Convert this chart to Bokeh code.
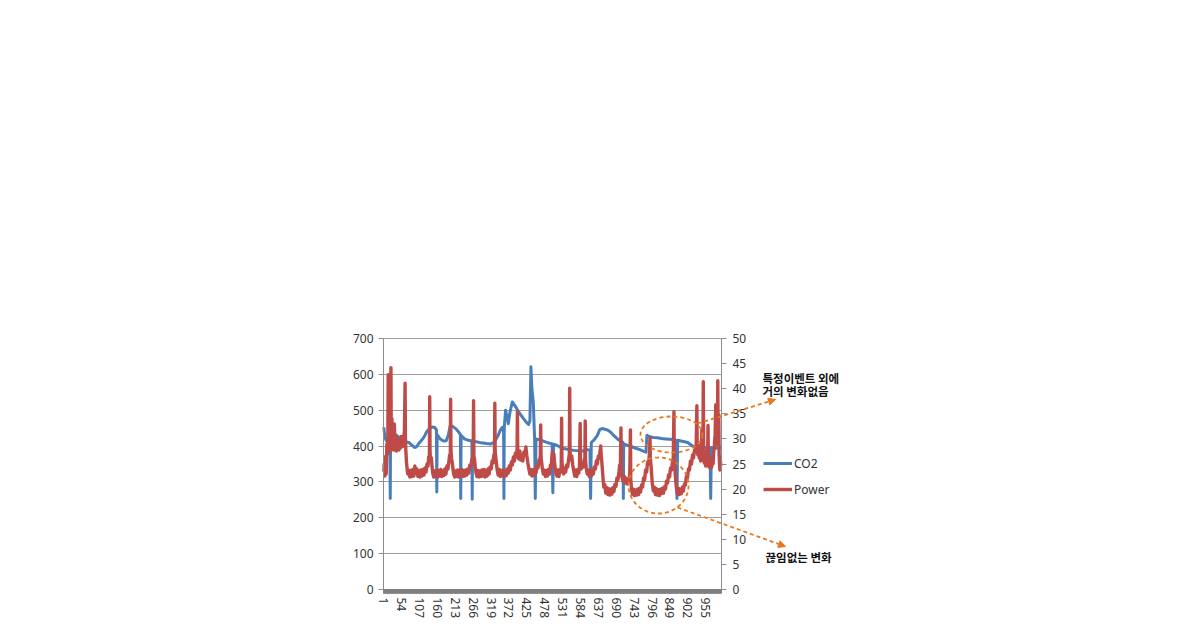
from bokeh.plotting import figure
from bokeh.models import (Range1d, LinearAxis, FixedTicker, Legend, LegendItem,
                          Label, Arrow, NormalHead)
from bokeh.embed import file_html
from bokeh.resources import INLINE

# ---------------- data ----------------
N_POINTS = 1000
X_TICKS = list(range(1, N_POINTS + 1, 53))          # 1, 54, 107, ... 955
LEFT_TICKS = [0, 100, 200, 300, 400, 500, 600, 700]
RIGHT_TICKS = [0, 5, 10, 15, 20, 25, 30, 35, 40, 45, 50]

CO2_POINTS = [
    (1, 452), (4, 425), (8, 416), (12, 420), (16, 428), (19, 420), (20, 254), (21, 425),
    (28, 440), (36, 432), (45, 425), (55, 418), (65, 412), (75, 410), (85, 402), (92, 396),
    (98, 398), (105, 408), (112, 415), (120, 425), (128, 440), (136, 448), (144, 453),
    (152, 452), (157, 445), (158, 272), (159, 432), (168, 420), (178, 414), (186, 415),
    (192, 430), (198, 458), (205, 455), (215, 448), (222, 440), (228, 432), (229, 254),
    (230, 430), (240, 420), (252, 416), (262, 414), (263, 252), (264, 414), (275, 412),
    (290, 409), (305, 407), (318, 406), (327, 410), (333, 418), (340, 430), (346, 444),
    (352, 452), (356, 440), (357, 254), (358, 452), (362, 500), (366, 482), (370, 462),
    (375, 495), (382, 523), (390, 512), (398, 500), (406, 488), (414, 478), (422, 468),
    (430, 460), (434, 470), (437, 621), (440, 560), (444, 523), (448, 420), (450, 254),
    (452, 420), (460, 418), (470, 415), (482, 411), (492, 408), (500, 406), (502, 270),
    (504, 405), (512, 403), (522, 398), (535, 393), (550, 390), (565, 388), (580, 387),
    (595, 386), (605, 390), (612, 388), (614, 254), (616, 410), (625, 418), (634, 430),
    (641, 446), (648, 449), (656, 447), (664, 445), (672, 440), (680, 432), (688, 425),
    (696, 418), (704, 414), (710, 410), (711, 254), (712, 406), (724, 402), (736, 398),
    (748, 394), (760, 390), (770, 386), (778, 383), (781, 430), (790, 426), (800, 424),
    (812, 423), (824, 421), (836, 420), (848, 419), (860, 418), (868, 416), (870, 254),
    (872, 416), (882, 414), (892, 412), (902, 410), (910, 404), (920, 398), (935, 396),
    (950, 395), (962, 395), (968, 395), (970, 254), (972, 395), (985, 394), (1000, 395),
]

POWER_POINTS = [
    (1, 23.5), (2, 25.0), (4, 22.6), (6, 26.5), (8, 23.0), (10, 29.0), (12, 27.0), (13, 31.0),
    (14, 42.8), (15, 29.0), (17, 33.0), (18, 27.5), (20, 31.5), (21, 28.0), (22, 44.2),
    (23, 30.0), (25, 34.0), (26, 28.0), (28, 32.0), (30, 27.8), (32, 33.0), (34, 28.5),
    (36, 30.5), (38, 27.6), (40, 30.2), (42, 28.0), (44, 30.0), (46, 27.8), (48, 29.8),
    (50, 28.2), (52, 30.5), (54, 28.4), (56, 29.6), (58, 28.5), (60, 30.5), (62, 31.5),
    (64, 41.1), (65, 30.0), (66, 28.0), (68, 25.5), (70, 24.0), (72, 23.0),
    (75, 23.8), (78, 22.4), (81, 23.7), (84, 22.5), (87, 23.9), (90, 22.6), (93, 24.6),
    (96, 23.2), (99, 24.0), (102, 22.5), (105, 23.6), (108, 22.4), (111, 23.8), (114, 22.6),
    (117, 23.9), (120, 22.8), (123, 24.2), (126, 23.4), (129, 25.0), (132, 24.6), (134, 26.4),
    (136, 25.8), (137, 38.4), (138, 27.2), (140, 25.6), (142, 26.2), (144, 24.4), (146, 23.2),
    (149, 22.4), (152, 23.6), (155, 22.5), (158, 23.8), (161, 22.4), (164, 23.7), (167, 22.6),
    (170, 23.9), (173, 22.5), (176, 23.6), (179, 22.7), (182, 24.0), (185, 23.0), (188, 24.6),
    (191, 24.0), (194, 25.6), (196, 26.8), (198, 25.8), (199, 37.9), (200, 27.6), (202, 26.0),
    (204, 25.2), (206, 24.0), (208, 23.0), (211, 22.4), (214, 23.6), (217, 22.5), (220, 23.8),
    (223, 22.4), (226, 23.6), (229, 22.6), (232, 23.9), (235, 22.5), (238, 23.7), (241, 22.6),
    (244, 23.8), (247, 22.8), (250, 24.0), (253, 23.2), (256, 24.8), (259, 24.4), (262, 26.0),
    (264, 25.4), (266, 27.2), (267, 37.6), (268, 26.6), (270, 25.8), (272, 24.4), (274, 23.4),
    (277, 22.5), (280, 23.7), (283, 22.4), (286, 23.6), (289, 22.5), (292, 23.8), (295, 22.6),
    (298, 23.9), (301, 22.4), (304, 23.7), (307, 22.6), (310, 24.0), (313, 23.0), (316, 24.4),
    (319, 24.0), (322, 25.6), (325, 25.2), (327, 26.8), (329, 26.0), (330, 37.1), (331, 27.6),
    (333, 26.2), (335, 25.0), (337, 23.8), (340, 22.8), (343, 23.9), (346, 22.5), (349, 23.7),
    (352, 22.6), (355, 23.8), (358, 22.5), (361, 23.6), (364, 22.7), (367, 24.0), (370, 23.2),
    (373, 24.6), (376, 23.8), (379, 25.4), (382, 24.8), (385, 26.4), (388, 25.6), (391, 27.2),
    (394, 26.4), (396, 28.0), (397, 35.4), (398, 27.2), (401, 26.0), (404, 27.6), (407, 25.8),
    (410, 26.8), (413, 25.6), (416, 27.4), (419, 26.8), (422, 28.4), (425, 26.6), (428, 25.2),
    (431, 24.0), (434, 23.0), (437, 23.9), (440, 22.6), (443, 23.8), (446, 22.7), (449, 24.0),
    (452, 23.2), (455, 24.6), (458, 24.2), (461, 25.8), (463, 25.4), (465, 26.8), (466, 32.8),
    (467, 26.4), (469, 25.2), (471, 24.0), (474, 23.0), (477, 23.8), (480, 22.5), (483, 23.7),
    (486, 22.6), (489, 23.9), (492, 23.0), (495, 24.8), (497, 24.2), (499, 26.2), (501, 27.4),
    (503, 26.0), (505, 27.0), (507, 25.4), (509, 24.2), (511, 23.2), (514, 22.6), (517, 23.8),
    (520, 22.5), (523, 23.9), (526, 23.4), (527, 25.0), (528, 34.1), (529, 25.4), (531, 24.2),
    (534, 23.0), (537, 24.2), (540, 23.4), (543, 24.8), (546, 24.4), (549, 26.0), (551, 27.0),
    (552, 40.1), (553, 27.2), (555, 25.8), (558, 26.6), (561, 24.8), (564, 23.6), (567, 22.6),
    (570, 23.8), (573, 22.5), (576, 23.9), (579, 23.2), (581, 24.6), (583, 33.1), (584, 25.0),
    (586, 24.0), (589, 25.2), (592, 24.4), (595, 25.8), (597, 26.2), (598, 33.6), (599, 25.6),
    (601, 24.2), (604, 23.0), (607, 23.8), (610, 22.5), (613, 23.7), (616, 22.6), (619, 23.9),
    (622, 23.0), (625, 24.4), (628, 24.0), (631, 25.6), (634, 25.0), (637, 26.6), (640, 26.2),
    (642, 27.6), (644, 28.6), (645, 27.0), (647, 25.6), (649, 23.8), (651, 22.0), (653, 20.4),
    (656, 20.9), (659, 19.2), (662, 20.3), (665, 18.9), (668, 20.1), (671, 18.8), (674, 20.0),
    (677, 19.0), (680, 20.3), (683, 19.5), (686, 20.9), (689, 20.5), (692, 22.2), (695, 21.8),
    (698, 23.4), (700, 24.8), (702, 23.2), (704, 32.2), (705, 23.6), (707, 22.4), (710, 21.6),
    (713, 22.6), (716, 21.2), (719, 22.2), (722, 21.0), (725, 22.0), (728, 21.4), (730, 23.0),
    (732, 31.8), (733, 22.0), (735, 20.2), (738, 18.9), (741, 20.0), (744, 18.7), (747, 19.8),
    (750, 18.8), (753, 20.0), (756, 18.9), (759, 20.2), (762, 19.4), (765, 20.8), (768, 20.4),
    (771, 22.2), (774, 21.8), (777, 23.8), (780, 23.4), (783, 25.4), (786, 25.0), (788, 26.8),
    (790, 30.2), (791, 26.2), (793, 24.8), (795, 22.8), (797, 21.0), (800, 19.6), (803, 20.4),
    (806, 18.9), (809, 20.1), (812, 18.8), (815, 19.9), (818, 18.7), (821, 20.0), (824, 19.1),
    (827, 20.2), (830, 19.2), (833, 20.5), (836, 20.0), (839, 21.6), (842, 21.2), (845, 22.8),
    (848, 22.4), (851, 24.2), (854, 23.8), (857, 25.6), (859, 26.2), (861, 35.4), (862, 25.8),
    (864, 23.8), (866, 22.0), (868, 20.4), (871, 19.1), (874, 20.2), (877, 18.9), (880, 20.0),
    (883, 19.1), (886, 20.4), (889, 19.6), (892, 21.0), (895, 20.8), (898, 22.6), (901, 22.2),
    (904, 24.0), (907, 23.8), (910, 25.6), (913, 25.0), (916, 26.8), (919, 26.2), (922, 27.8),
    (925, 27.4), (927, 28.8), (929, 36.6), (930, 28.4), (932, 26.8), (934, 28.8), (936, 26.2),
    (938, 28.0), (940, 25.6), (942, 27.4), (944, 32.0), (945, 25.8), (947, 28.2), (948, 41.4),
    (949, 26.8), (951, 25.2), (953, 27.6), (955, 24.6), (957, 26.4), (959, 24.8), (961, 26.8),
    (962, 32.7), (963, 25.8), (965, 24.4), (967, 26.0), (969, 24.2), (971, 25.6), (973, 24.4),
    (975, 26.2), (977, 25.0), (979, 27.4), (981, 28.8), (983, 30.8), (985, 36.8), (986, 29.8),
    (988, 33.8), (990, 28.8), (991, 41.6), (992, 30.4), (994, 34.8), (995, 26.8), (997, 23.8),
    (998, 26.4), (1000, 24.6),
]

SERIES_NAMES = ["CO2", "Power"]
NOTE_TOP = ["특정이벤트 외에", "거의 변화없음"]
NOTE_BOTTOM = "끊임없는 변화"

# ---------------- styling / layout ----------------
BLUE = "#4A7EBB"
RED = "#BE4B48"
ORANGE = "#E8771E"
GRID = "#A0A0A0"
AXIS = "#8C8C8C"
TXT = "#333333"
FONT = "Noto Sans"
KFONT = "Noto Sans CJK KR"

W, H = 1170, 632
FL, FR, FT, FB = 383, 721, 338, 589       # plot-area (axes box) edges on the page
FRAME_L, FRAME_R, FRAME_T, FRAME_B = 340, 880, 328, 628   # Bokeh frame (holds notes too)
X0, X_AXIS_END = 0, 1002
Y0, Y1 = 0, 700
P0, P1 = 0, 50

def lin(px, a, b, va, vb):
    return va + (px - a) * (vb - va) / (b - a)

def dx(px):
    return lin(px, FL, FR, X0, X_AXIS_END)

def dy(py):
    return lin(py, FB, FT, Y0, Y1)

def dp(py):
    return lin(py, FB, FT, P0, P1)

p = figure(width=W, height=H, output_backend="svg", toolbar_location=None,
           x_range=Range1d(dx(FRAME_L), dx(FRAME_R)),
           y_range=Range1d(dy(FRAME_B), dy(FRAME_T)),
           min_border_left=FRAME_L, min_border_right=W - FRAME_R,
           min_border_top=FRAME_T, min_border_bottom=H - FRAME_B,
           background_fill_color="white", border_fill_color="white")
p.outline_line_color = None
p.extra_y_ranges = {"power": Range1d(dp(FRAME_B), dp(FRAME_T))}

# left axis, drawn at the start of the category range
p.yaxis.fixed_location = X0
p.yaxis.ticker = FixedTicker(ticks=LEFT_TICKS)
p.yaxis.bounds = (Y0, Y1)
p.yaxis.axis_line_color = AXIS
p.yaxis.major_tick_line_color = AXIS
p.yaxis.major_tick_out = 5
p.yaxis.major_tick_in = 0
p.yaxis.minor_tick_line_color = None
p.yaxis.major_label_text_font = FONT
p.yaxis.major_label_text_font_size = "12px"
p.yaxis.major_label_text_color = TXT
p.yaxis.major_label_standoff = 5

# right (secondary) axis, drawn at the end of the category range
ra = LinearAxis(y_range_name="power", ticker=FixedTicker(ticks=RIGHT_TICKS),
                fixed_location=X_AXIS_END, bounds=(P0, P1))
ra.axis_line_color = AXIS
ra.major_tick_line_color = AXIS
ra.major_tick_out = 5
ra.major_tick_in = 0
ra.minor_tick_line_color = None
ra.major_label_text_font = FONT
ra.major_label_text_font_size = "12px"
ra.major_label_text_color = TXT
ra.major_label_standoff = 6
p.add_layout(ra, "right")

# bottom (category) axis at value 0: dense tick marks form the grey band
p.xaxis.fixed_location = Y0
p.xaxis.ticker = FixedTicker(ticks=X_TICKS, minor_ticks=list(range(1, N_POINTS + 2)))
p.xaxis.bounds = (X0, X_AXIS_END)
p.xaxis.axis_line_color = "#808080"
p.xaxis.axis_line_width = 1
p.xaxis.major_tick_line_color = "#808080"
p.xaxis.minor_tick_line_color = "#808080"
p.xaxis.major_tick_out = 4
p.xaxis.major_tick_in = 0
p.xaxis.minor_tick_out = 4
p.xaxis.minor_tick_in = 0
p.xaxis.major_label_orientation = "vertical"
p.xaxis.major_label_text_font = FONT
p.xaxis.major_label_text_font_size = "12px"
p.xaxis.major_label_text_color = TXT
p.xaxis.major_label_standoff = 4

p.xgrid.visible = False
p.ygrid.ticker = FixedTicker(ticks=LEFT_TICKS)
p.ygrid.grid_line_color = GRID
p.ygrid.cross_bounds = (X0, X_AXIS_END)

# series
co2_x = [a for a, _ in CO2_POINTS]
co2_y = [b for _, b in CO2_POINTS]
pw_x = [a for a, _ in POWER_POINTS]
pw_y = [b for _, b in POWER_POINTS]

r_co2 = p.line(co2_x, co2_y, line_color=BLUE, line_width=3, line_join="round")
r_pow = p.line(pw_x, pw_y, line_color=RED, line_width=3.4, line_join="round",
               y_range_name="power")

# dashed ellipses
p.ellipse(x=[dx(671)], y=[dy(434)], width=62, height=36,
          width_units="screen", height_units="screen",
          fill_alpha=0, line_color=ORANGE, line_width=1.8, line_dash="4 3")
p.ellipse(x=[dx(658)], y=[dy(485)], width=60, height=56,
          width_units="screen", height_units="screen",
          fill_alpha=0, line_color=ORANGE, line_width=1.8, line_dash="4 3")

# dashed arrows
for (sx, sy, ex, ey) in [(697, 423, 775, 399), (677, 507, 785, 546)]:
    p.add_layout(Arrow(end=NormalHead(size=7, fill_color=ORANGE, line_color=ORANGE),
                       x_start=dx(sx), y_start=dy(sy), x_end=dx(ex), y_end=dy(ey),
                       line_color=ORANGE, line_width=1.8, line_dash="4 3"))

# notes
for text, (lx, ly) in zip(NOTE_TOP + [NOTE_BOTTOM], [(762, 369), (762, 382), (765, 548)]):
    p.add_layout(Label(x=dx(lx), y=dy(ly), text=text, text_font=KFONT,
                       text_font_size="11.5px", text_font_style="bold",
                       text_color="#111111", text_baseline="top", text_align="left"))

# legend (inside the widened frame, right of the secondary axis)
legend = Legend(items=[LegendItem(label=SERIES_NAMES[0], renderers=[r_co2]),
                       LegendItem(label=SERIES_NAMES[1], renderers=[r_pow])],
                location=(763 - FRAME_L, FRAME_B - 499), padding=0, margin=0, spacing=6,
                glyph_width=29, glyph_height=20, label_height=20, label_standoff=2,
                label_text_font=FONT, label_text_font_size="12px",
                label_text_color=TXT, border_line_color=None,
                background_fill_alpha=0)
p.add_layout(legend)

open("out.html", "w").write(file_html(p, INLINE))
